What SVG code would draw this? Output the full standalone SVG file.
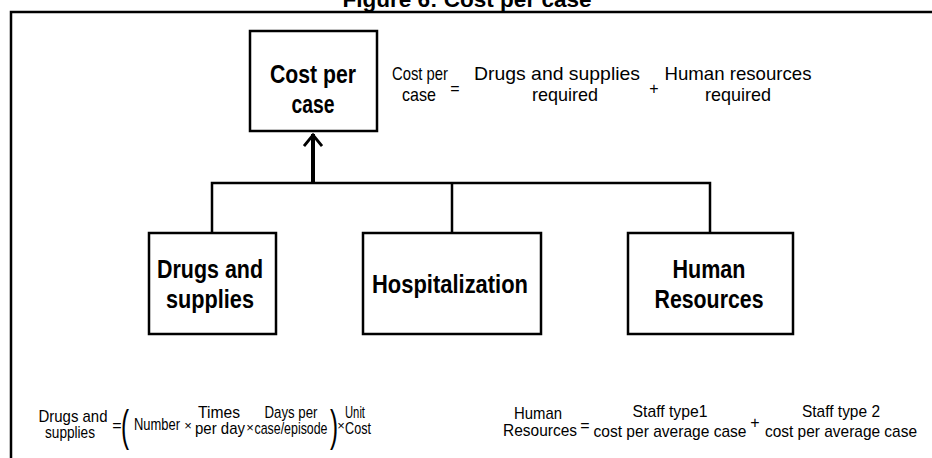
<svg xmlns="http://www.w3.org/2000/svg" width="932" height="458" viewBox="0 0 932 458">
<defs>
<style>
.box{fill:#fff;stroke:#000;stroke-width:2.5}
.ln{fill:none;stroke:#000;stroke-width:2.5}
.nd{font-family:"Liberation Sans",Arial,sans-serif;font-weight:bold;font-size:26px;text-anchor:middle;fill:#000}
.eq{font-family:"Liberation Sans",Arial,sans-serif;font-size:19px;text-anchor:middle;fill:#000}
.eqs{font-family:"Liberation Sans",Arial,sans-serif;font-size:17px;text-anchor:middle;fill:#000}
.op{font-family:"Liberation Sans",Arial,sans-serif;font-size:16px;text-anchor:middle;fill:#000}
.ttl{font-family:"Liberation Sans",Arial,sans-serif;font-weight:bold;font-size:22px;text-anchor:middle;fill:#000}
</style>
<marker id="arr" viewBox="0 0 20 20" refX="14" refY="10" markerWidth="20" markerHeight="20" markerUnits="userSpaceOnUse" orient="auto">
<path d="M2,1 L13,10 L2,19" fill="none" stroke="#000" stroke-width="2.8"/>
</marker>
</defs>
<rect width="932" height="458" fill="#fff"/>
<text class="ttl" x="467" y="7" textLength="249" lengthAdjust="spacingAndGlyphs">Figure 6: Cost per case</text>
<path class="ln" d="M11,458 V12 H932"/>
<g id="connectors">
<path class="ln" d="M212,233 V183 H710 V233 M452,183 V233"/>
<path d="M313,184 V134" fill="none" stroke="#000" stroke-width="4" marker-end="url(#arr)"/>
</g>
<g id="node-cost">
<rect class="box" x="250" y="31" width="127" height="100"/>
<text class="nd" x="313" y="83" textLength="86" lengthAdjust="spacingAndGlyphs">Cost per</text>
<text class="nd" x="313" y="113" textLength="43" lengthAdjust="spacingAndGlyphs">case</text>
</g>
<g id="node-drugs">
<rect class="box" x="149" y="233" width="127" height="101"/>
<text class="nd" x="210" y="278" textLength="106" lengthAdjust="spacingAndGlyphs">Drugs and</text>
<text class="nd" x="210" y="308" textLength="88" lengthAdjust="spacingAndGlyphs">supplies</text>
</g>
<g id="node-hosp">
<rect class="box" x="363" y="233" width="178" height="101"/>
<text class="nd" x="450" y="293" textLength="156" lengthAdjust="spacingAndGlyphs">Hospitalization</text>
</g>
<g id="node-hr">
<rect class="box" x="628" y="233" width="165" height="101"/>
<text class="nd" x="709" y="278" textLength="73" lengthAdjust="spacingAndGlyphs">Human</text>
<text class="nd" x="709" y="308" textLength="109" lengthAdjust="spacingAndGlyphs">Resources</text>
</g>
<g id="eq-top">
<text class="eq" x="420" y="80" textLength="56" lengthAdjust="spacingAndGlyphs">Cost per</text>
<text class="eq" x="419" y="101" textLength="34" lengthAdjust="spacingAndGlyphs">case</text>
<text class="op" x="455" y="94">=</text>
<text class="eq" x="557" y="80" textLength="166" lengthAdjust="spacingAndGlyphs">Drugs and supplies</text>
<text class="eq" x="565" y="101" textLength="66" lengthAdjust="spacingAndGlyphs">required</text>
<text class="op" x="654" y="94">+</text>
<text class="eq" x="738" y="80" textLength="147" lengthAdjust="spacingAndGlyphs">Human resources</text>
<text class="eq" x="738" y="101" textLength="66" lengthAdjust="spacingAndGlyphs">required</text>
</g>
<g id="eq-drugs">
<text class="eqs" x="73" y="422" textLength="69" lengthAdjust="spacingAndGlyphs">Drugs and</text>
<text class="eqs" x="70" y="438" textLength="50" lengthAdjust="spacingAndGlyphs">supplies</text>
<text class="op" x="117" y="431">=</text>
<text class="eqs" transform="translate(125,441) scale(0.55,1)" style="font-size:44px">(</text>
<text class="eqs" x="157" y="430" textLength="46" lengthAdjust="spacingAndGlyphs">Number</text>
<text class="op" x="188" y="430" style="font-size:13px">×</text>
<text class="eqs" x="219" y="418" textLength="42" lengthAdjust="spacingAndGlyphs">Times</text>
<text class="eqs" x="220" y="434" textLength="50" lengthAdjust="spacingAndGlyphs">per day</text>
<text class="op" x="250" y="432" style="font-size:13px">×</text>
<text class="eqs" x="291" y="418" textLength="53" lengthAdjust="spacingAndGlyphs">Days per</text>
<text class="eqs" x="291" y="434" textLength="73" lengthAdjust="spacingAndGlyphs">case/episode</text>
<text class="eqs" transform="translate(334,441) scale(0.55,1)" style="font-size:44px">)</text>
<text class="op" x="341" y="430" style="font-size:13px">×</text>
<text class="eqs" x="355" y="418" textLength="20" lengthAdjust="spacingAndGlyphs">Unit</text>
<text class="eqs" x="358" y="434" textLength="26" lengthAdjust="spacingAndGlyphs">Cost</text>
</g>
<g id="eq-hr">
<text class="eqs" x="538" y="419" textLength="48" lengthAdjust="spacingAndGlyphs">Human</text>
<text class="eqs" x="540" y="436" textLength="74" lengthAdjust="spacingAndGlyphs">Resources</text>
<text class="op" x="585" y="431">=</text>
<text class="eqs" x="670" y="417" textLength="75" lengthAdjust="spacingAndGlyphs">Staff type1</text>
<text class="eqs" x="670" y="437" textLength="153" lengthAdjust="spacingAndGlyphs">cost per average case</text>
<text class="op" x="755" y="428">+</text>
<text class="eqs" x="841" y="417" textLength="78" lengthAdjust="spacingAndGlyphs">Staff type 2</text>
<text class="eqs" x="841" y="437" textLength="152" lengthAdjust="spacingAndGlyphs">cost per average case</text>
</g>
</svg>
